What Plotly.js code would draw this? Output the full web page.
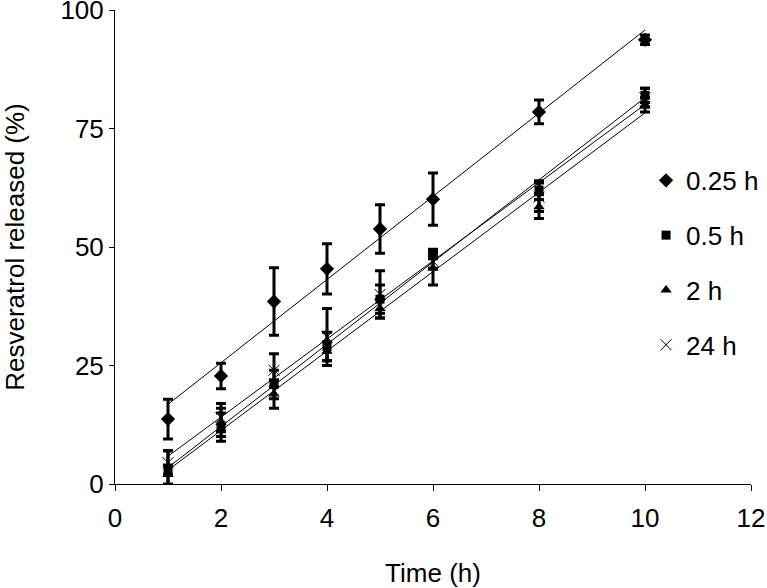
<!DOCTYPE html>
<html>
<head>
<meta charset="utf-8">
<script src="https://cdn.plot.ly/plotly-3.0.1.min.js"></script>
<style>html,body{margin:0;padding:0;background:#fff;}#chart{width:767px;height:588px;}</style>
</head>
<body>
<div id="chart"></div>
<script>
// Time points (h)
const timePoints = [1, 2, 3, 4, 5, 6, 8, 10];

// Series names (legend labels)
const seriesNames = ["0.25 h", "0.5 h", "2 h", "24 h"];

// Resveratrol released (%) for each series
const release025 = [13.7, 22.8, 38.5, 45.4, 53.8, 60.1, 78.5, 93.7];
const release05  = [3.0, 12.0, 21.0, 29.0, 39.0, 48.5, 62.0, 82.0];
const release2   = [2.0, 13.0, 19.0, 28.0, 37.0, 45.5, 58.5, 80.0];
const release24  = [4.5, 14.0, 24.0, 31.0, 40.0, 47.0, 60.5, 81.5];

// Error bars (SD, %)
const err025 = [4.2, 2.7, 7.1, 5.3, 5.1, 5.5, 2.5, 1.0];
const err05  = [4.0, 3.0, 3.0, 3.0, 3.0, 1.0, 2.0, 1.5];
const err2   = [2.0, 3.0, 3.0, 2.0, 2.0, 3.5, 2.5, 1.5];
const err24  = [2.5, 3.0, 3.5, 6.0, 5.0, 1.5, 3.0, 2.0];

// Axis ticks
const xTicks = [0, 2, 4, 6, 8, 10, 12];
const yTicks = [0, 25, 50, 75, 100];

const seriesValues = [release025, release05, release2, release24];
const seriesErrors = [err025, err05, err2, err24];
const symbols = ["diamond", "square", "triangle-up", "x-thin-open"];
const sizes = [11, 9, 10, 11];

function linearFit(xs, ys) {
  const n = xs.length;
  const mx = xs.reduce((a, b) => a + b, 0) / n;
  const my = ys.reduce((a, b) => a + b, 0) / n;
  let sxy = 0, sxx = 0;
  for (let i = 0; i < n; i++) { sxy += (xs[i] - mx) * (ys[i] - my); sxx += (xs[i] - mx) ** 2; }
  const slope = sxy / sxx;
  return { slope, intercept: my - slope * mx };
}

const traces = [];
// Trend lines (least-squares fit of each series)
seriesValues.forEach((ys) => {
  const f = linearFit(timePoints, ys);
  const x0 = timePoints[0], x1 = timePoints[timePoints.length - 1];
  traces.push({
    x: [x0, x1],
    y: [f.intercept + f.slope * x0, f.intercept + f.slope * x1],
    mode: "lines",
    line: { color: "#000", width: 1 },
    showlegend: false,
    hoverinfo: "skip"
  });
});
// Data points with error bars
seriesValues.forEach((ys, i) => {
  traces.push({
    x: timePoints,
    y: ys,
    name: seriesNames[i],
    legendgroup: "g" + i,
    mode: "markers",
    marker: { symbol: symbols[i], size: sizes[i], color: "#000", line: { color: "#000", width: i === 3 ? 1 : 0 } },
    error_y: { type: "data", array: seriesErrors[i], visible: true, color: "#000", thickness: 3, width: 5 }
  });
});

const font = { family: "Liberation Sans, Arial, sans-serif", size: 26, color: "#000" };

const layout = {
  width: 767, height: 588,
  margin: { l: 115, r: 16, t: 10, b: 104, autoexpand: false },
  paper_bgcolor: "#fff", plot_bgcolor: "#fff",
  font: font,
  showlegend: true,
  legend: {
    x: 0.835, y: 0.69, xanchor: "left", yanchor: "top",
    font: font, bgcolor: "rgba(0,0,0,0)",
    traceorder: "grouped", tracegroupgap: 18, itemwidth: 30
  },
  xaxis: {
    range: [0, 12], tickvals: xTicks, ticktext: xTicks.map(String),
    showgrid: false, zeroline: false, showline: true, linecolor: "#000", linewidth: 1,
    ticks: "outside", ticklen: 6, tickcolor: "#000", tickfont: font, ticklabelstandoff: 5,
    title: { text: "Time (h)", font: font, standoff: 32 }
  },
  yaxis: {
    range: [0, 100], tickvals: yTicks, ticktext: yTicks.map(String),
    showgrid: false, zeroline: false, showline: true, linecolor: "#000", linewidth: 1,
    ticks: "outside", ticklen: 5, tickcolor: "#000", tickfont: font, ticklabeloverflow: "allow",
    title: { text: "Resveratrol released (%)", font: font, standoff: 40 }
  }
};

Plotly.newPlot("chart", traces, layout, { displayModeBar: false, staticPlot: true });
</script>
</body>
</html>
